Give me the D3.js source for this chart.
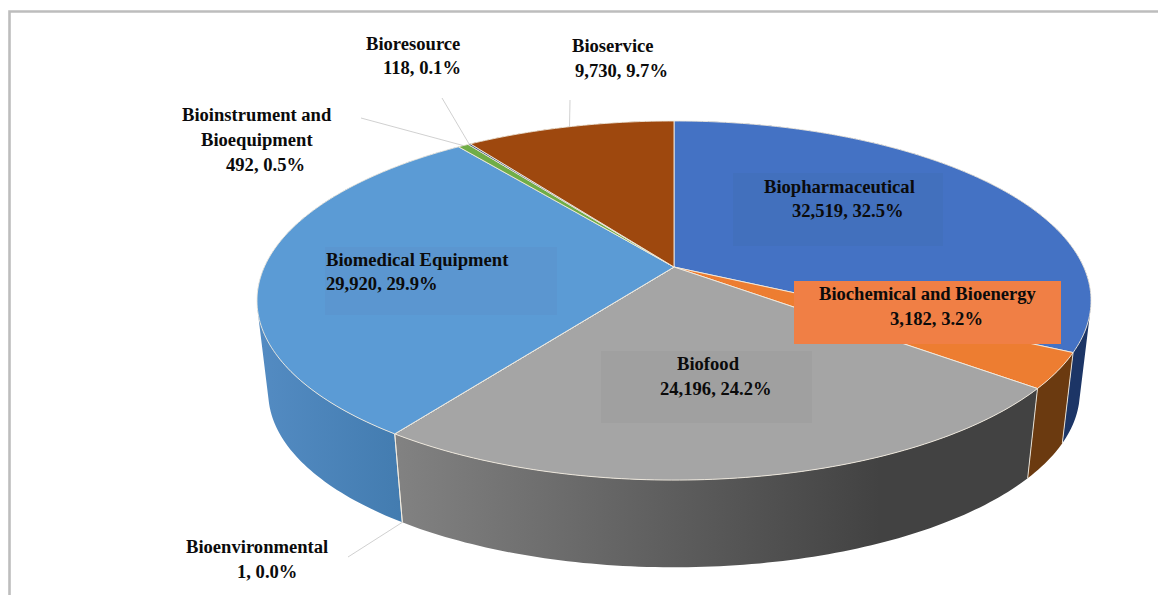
<!DOCTYPE html>
<html lang="en">
<head>
    <meta charset="UTF-8">
    <script src="https://cdnjs.cloudflare.com/ajax/libs/d3/7.8.5/d3.min.js"></script>
    <style>
        html, body { margin: 0; padding: 0; background: #fff; }
        svg { display: block; }
        text { font-family: "Liberation Serif", serif; font-weight: bold; font-size: 18.6px; fill: #0b0b0b; }
    </style>
</head>
<body>
<svg id="chart" width="1158" height="595"></svg>
<script>
    const categories = ['Biopharmaceutical', 'Biochemical and Bioenergy', 'Biofood', 'Bioenvironmental',
        'Biomedical Equipment', 'Bioinstrument and Bioequipment', 'Bioresource', 'Bioservice'];
    const values = [32519, 3182, 24196, 1, 29920, 492, 118, 9730];
    const topColors = ['#4472c4', '#ed7d31', '#a5a5a5', '#ffc000', '#5b9bd5', '#70ad47', '#264478', '#9e480e'];
    const wallColors = [['#1c3566', '#1c3566'], ['#6b3a10', '#6b3a10'], ['#828282', '#424242'], ['#666666', '#666666'],
        ['#538bc2', '#437cb0'], ['#3f6b28', '#3f6b28'], ['#16284a', '#16284a'], ['#5f2b08', '#5f2b08']];

    // label lines: text anchor x and baseline y for each line
    const labelLines = [
        [['Biopharmaceutical', 764, 193], [null, 792, 217]],
        [['Biochemical and Bioenergy', 819, 300], [null, 890, 325]],
        [['Biofood', 677, 370], [null, 660, 395]],
        [['Bioenvironmental', 186, 553], [null, 237, 578]],
        [['Biomedical Equipment', 326, 266], [null, 326, 290]],
        [['Bioinstrument and', 182, 121], ['Bioequipment', 201, 146], [null, 226, 171]],
        [['Bioresource', 366, 50], [null, 383, 74]],
        [['Bioservice', 572, 52], [null, 575, 77]]
    ];
    const labelBoxes = [
        {i: 0, x: 733, y: 173, w: 210, h: 73, fill: '#4270bd'},
        {i: 1, x: 794, y: 281, w: 267, h: 63, fill: '#f07f45'},
        {i: 2, x: 601, y: 351, w: 211, h: 72, fill: '#a0a0a0'},
        {i: 4, x: 325, y: 247, w: 232, h: 68, fill: '#5b96d0'}
    ];
    // leader line start points, the other end sits on the slice edge
    const leaders = [
        {i: 3, x: 348, y: 557, lower: true},
        {i: 5, x: 361, y: 118},
        {i: 6, x: 442, y: 98},
        {i: 7, x: 570, y: 100}
    ];

    const svg = d3.select('#chart');
    const persp = 0.1867;

    // tilted disc: unit circle to screen with a bit of perspective
    function project(angle, r, face) {
        const u = Math.sin(angle) * r, v = Math.cos(angle) * r;
        const w = 1 + persp * v;
        return [674 + face.a * u / w, face.y - face.b * v / w];
    }
    const topFace = {a: 409.7, b: 173.3, y: 267};
    const lowFace = {a: 398.6, b: 168.6, y: 360};

    const arcs = d3.pie().sort(null).value(d => d)(values);
    const total = d3.sum(values);
    const line = d3.line();
    const fmtN = d3.format(','), fmtP = d3.format('.1%');

    function rim(d, face) {
        const n = Math.max(2, Math.ceil((d.endAngle - d.startAngle) * 60));
        return d3.range(n + 1).map(k => project(d.startAngle + (d.endAngle - d.startAngle) * k / n, 1, face));
    }

    // frame
    svg.append('path').attr('d', 'M9.5,595V11.5H1158').attr('fill', 'none')
        .attr('stroke', '#bdbdbd').attr('stroke-width', 2.6);

    const defs = svg.append('defs');
    wallColors.forEach((c, i) => {
        const g = defs.append('linearGradient').attr('id', 'wall' + i)
            .attr('gradientUnits', 'userSpaceOnUse')
            .attr('x1', i === 2 ? 395 : 262).attr('x2', i === 2 ? 880 : 400)
            .attr('y1', 0).attr('y2', 0);
        g.append('stop').attr('offset', 0).attr('stop-color', c[0]);
        g.append('stop').attr('offset', 1).attr('stop-color', c[1]);
    });

    // wall = quads in one path, all wound the same way so they fill without seams
    function wallPath(d) {
        const up = rim(d, topFace), low = rim(d, lowFace);
        return d3.range(up.length - 1).map(k => {
            const quad = [up[k], up[k + 1], low[k + 1], low[k]];
            if (d3.polygonArea(quad) < 0) quad.reverse();
            return line(quad) + 'Z';
        }).join('');
    }

    const walls = svg.append('g');
    walls.append('g').selectAll('path').data(arcs).enter().append('path')
        .attr('d', wallPath)
        .attr('fill', (d, i) => `url(#wall${i})`);
    walls.append('g').selectAll('line').data(arcs).enter().append('line')
        .attr('x1', d => project(d.startAngle, 1, topFace)[0]).attr('y1', d => project(d.startAngle, 1, topFace)[1])
        .attr('x2', d => project(d.startAngle, 1, lowFace)[0]).attr('y2', d => project(d.startAngle, 1, lowFace)[1])
        .attr('stroke', '#f3ece0').attr('stroke-width', 0.9);

    svg.append('g').selectAll('path').data(arcs).enter().append('path')
        .attr('d', d => line([[674, 267]].concat(rim(d, topFace))) + 'Z')
        .attr('fill', (d, i) => topColors[i])
        .attr('stroke', '#f3ece0').attr('stroke-width', 0.9).attr('stroke-linejoin', 'round');

    svg.append('g').selectAll('line').data(leaders).enter().append('line')
        .attr('x1', d => d.x).attr('y1', d => d.y)
        .attr('x2', d => project((arcs[d.i].startAngle + arcs[d.i].endAngle) / 2, 1, d.lower ? lowFace : topFace)[0])
        .attr('y2', d => project((arcs[d.i].startAngle + arcs[d.i].endAngle) / 2, 1, d.lower ? lowFace : topFace)[1])
        .attr('stroke', '#c4c4c4').attr('stroke-width', 0.8);

    svg.append('g').selectAll('rect').data(labelBoxes).enter().append('rect')
        .attr('x', d => d.x).attr('y', d => d.y).attr('width', d => d.w).attr('height', d => d.h)
        .attr('fill', d => d.fill);

    labelLines.forEach((lines, i) => {
        lines.forEach(l => {
            svg.append('text').attr('x', l[1]).attr('y', l[2])
                .text(l[0] || `${fmtN(values[i])}, ${fmtP(values[i] / total)}`);
        });
    });
</script>
</body>
</html>
